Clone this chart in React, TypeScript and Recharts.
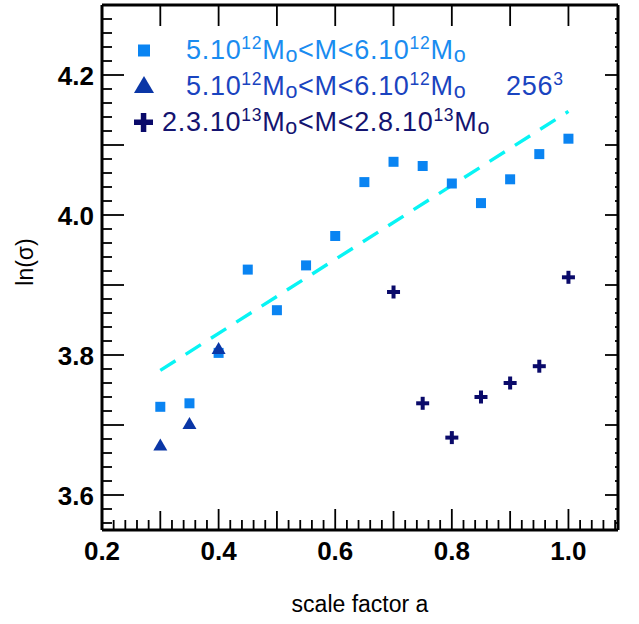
import { Scatter, ScatterChart, XAxis, YAxis } from 'recharts';

// scale factor a / ln(sigma)
const aSquares = [0.3, 0.35, 0.4, 0.45, 0.5, 0.55, 0.6, 0.65, 0.7, 0.75, 0.8, 0.85, 0.9, 0.95, 1.0];
const lnSigmaSquares = [3.726, 3.731, 3.803, 3.922, 3.864, 3.928, 3.97, 4.047, 4.076, 4.07, 4.045, 4.017, 4.051, 4.087, 4.109];

const aTriangles = [0.3, 0.35, 0.4];
const lnSigmaTriangles = [3.672, 3.703, 3.81];

const aCrosses = [0.7, 0.75, 0.8, 0.85, 0.9, 0.95, 1.0];
const lnSigmaCrosses = [3.89, 3.731, 3.682, 3.74, 3.76, 3.784, 3.911];

const aFit = [0.3, 1.0];
const lnSigmaFit = [3.778, 4.148];

const xTickLabels = [0.2, 0.4, 0.6, 0.8, 1.0];
const yTickLabels = [3.6, 3.8, 4.0, 4.2];

const X_DOMAIN: [number, number] = [0.2, 1.085];
const Y_DOMAIN: [number, number] = [3.55, 4.3];

const FONT = '"Liberation Sans", Arial, Helvetica, sans-serif';
const SQUARE_COLOR = '#0a84f2';
const TRIANGLE_COLOR = '#0a36a6';
const CROSS_COLOR = '#0a0a6a';
const FIT_COLOR = '#08f4f4';

const toPoints = (xs: number[], ys: number[]) => xs.map((x, i) => ({ x, y: ys[i] }));

// every 0.02 along both axes
const xMinor: number[] = [];
for (let k = 10; k <= 54; k++) xMinor.push(k / 50);
const xTenths: number[] = [];
for (let k = 2; k <= 10; k++) xTenths.push(k / 10);
const yMinor: number[] = [];
for (let k = 178; k <= 215; k++) yMinor.push(k / 50);

const isLabel = (v: number, list: number[]) => list.some((l) => Math.abs(l - v) < 1e-6);
const isTenth = (v: number) => Math.abs(v * 10 - Math.round(v * 10)) < 1e-6;

function BottomTick({ x, y, payload }: any) {
  const v = payload.value;
  const labelled = isLabel(v, xTickLabels);
  const len = labelled ? 21 : isTenth(v) ? 19 : 10;
  return (
    <g>
      <line x1={x} x2={x} y1={y} y2={y - len} stroke="#000" strokeWidth={1.8} />
      {labelled && (
        <text x={x} y={y + 30} textAnchor="middle" fontFamily={FONT} fontWeight="bold" fontSize={26} fill="#000">
          {v.toFixed(1)}
        </text>
      )}
    </g>
  );
}

function TopTick({ x, y }: any) {
  return <line x1={x} x2={x} y1={y} y2={y + 21} stroke="#000" strokeWidth={1.8} />;
}

function LeftTick({ x, y, payload }: any) {
  const v = payload.value;
  const labelled = isLabel(v, yTickLabels);
  const len = isTenth(v) ? 22 : 10;
  return (
    <g>
      <line x1={x} x2={x + len} y1={y} y2={y} stroke="#000" strokeWidth={1.8} />
      {labelled && (
        <text x={x - 8} y={y + 9.5} textAnchor="end" fontFamily={FONT} fontWeight="bold" fontSize={26} fill="#000">
          {v.toFixed(1)}
        </text>
      )}
    </g>
  );
}

function RightTick({ x, y, payload }: any) {
  const len = isTenth(payload.value) ? 13 : 3;
  return <line x1={x} x2={x - len} y1={y} y2={y} stroke="#000" strokeWidth={1.8} />;
}

const SquareDot = ({ cx, cy }: any) => <rect x={cx - 5} y={cy - 5} width={10} height={10} fill={SQUARE_COLOR} />;

const TriangleDot = ({ cx, cy }: any) => (
  <path d={`M${cx - 7},${cy + 6} L${cx + 7},${cy + 6} L${cx},${cy - 6} Z`} fill={TRIANGLE_COLOR} />
);

const CrossDot = ({ cx, cy }: any) => (
  <g fill={CROSS_COLOR}>
    <rect x={cx - 6.5} y={cy - 2} width={13} height={4} />
    <rect x={cx - 2} y={cy - 6.5} width={4} height={13} />
  </g>
);

const NoDot = () => <g />;

function MassRange({ lo, hi, exp, color }: { lo: string; hi: string; exp: string; color: string }) {
  return (
    <>
      <tspan fill={color}>{lo}</tspan>
      <tspan fill={color} fontSize={17.5} dy={-10}>{exp}</tspan>
      <tspan fill={color} dy={10}>M</tspan>
      <tspan fill={color} fontSize={21.5} dy={2.5}>o</tspan>
      <tspan fill={color} dy={-2.5}>{'<M<' + hi}</tspan>
      <tspan fill={color} fontSize={17.5} dy={-10}>{exp}</tspan>
      <tspan fill={color} dy={10}>M</tspan>
      <tspan fill={color} fontSize={21.5} dy={2.5}>o</tspan>
    </>
  );
}

function ChartLegend() {
  return (
    <svg width={639} height={150} style={{ display: 'block' }}>
      <g fontFamily={FONT} fontSize={27} letterSpacing={0.7}>
        <rect x={138} y={44.5} width={12} height={12} fill={SQUARE_COLOR} />
        <text x={186} y={59}>
          <MassRange lo="5.10" hi="6.10" exp="12" color="#1a8cf0" />
        </text>

        <path d="M134,93 L154,93 L144,76 Z" fill={TRIANGLE_COLOR} />
        <text x={186} y={95}>
          <MassRange lo="5.10" hi="6.10" exp="12" color="#1a44c0" />
        </text>
        <text x={506} y={95} fill="#1a44c0">
          256<tspan fontSize={17.5} dy={-10}>3</tspan>
        </text>

        <g fill={CROSS_COLOR}>
          <rect x={134} y={119.5} width={19} height={5.5} />
          <rect x={140.8} y={113} width={5.5} height={19} />
        </g>
        <text x={162} y={131}>
          <MassRange lo="2.3.10" hi="2.8.10" exp="13" color="#141470" />
        </text>
      </g>
    </svg>
  );
}

export default function App() {
  return (
    <div style={{ position: 'absolute', left: 0, top: 0, width: 639, height: 624, background: '#fff' }}>
      <ScatterChart width={639} height={624} margin={{ top: 0, right: 20, bottom: 0, left: 0 }}>
        <XAxis
          xAxisId="bottom"
          dataKey="x"
          type="number"
          domain={X_DOMAIN}
          allowDataOverflow
          ticks={xMinor}
          interval={0}
          height={94}
          tickSize={0}
          tickMargin={0}
          tickLine={false}
          tick={<BottomTick />}
          axisLine={{ stroke: '#000', strokeWidth: 3 }}
          label={({ viewBox }: any) => (
            <text
              x={viewBox.x + viewBox.width / 2}
              y={viewBox.y + 82}
              textAnchor="middle"
              fontFamily={FONT}
              fontSize={23}
              fill="#000"
            >
              scale factor a
            </text>
          )}
        />
        <XAxis
          xAxisId="top"
          orientation="top"
          dataKey="x"
          type="number"
          domain={X_DOMAIN}
          allowDataOverflow
          ticks={xTenths}
          interval={0}
          height={5}
          tickSize={0}
          tickMargin={0}
          tickLine={false}
          tick={<TopTick />}
          axisLine={{ stroke: '#000', strokeWidth: 3 }}
        />
        <YAxis
          yAxisId="left"
          dataKey="y"
          type="number"
          domain={Y_DOMAIN}
          allowDataOverflow
          ticks={yMinor}
          interval={0}
          width={102}
          tickSize={0}
          tickMargin={0}
          tickLine={false}
          tick={<LeftTick />}
          axisLine={{ stroke: '#000', strokeWidth: 3 }}
          label={() => (
            <text
              x={25}
              y={262}
              transform="rotate(-90 25 262)"
              textAnchor="middle"
              dominantBaseline="central"
              fontFamily={FONT}
              fontSize={23}
              fill="#000"
            >
              ln(σ)
            </text>
          )}
        />
        <YAxis
          yAxisId="right"
          orientation="right"
          dataKey="y"
          type="number"
          domain={Y_DOMAIN}
          allowDataOverflow
          ticks={yMinor}
          interval={0}
          width={1}
          tickSize={0}
          tickMargin={0}
          tickLine={false}
          tick={<RightTick />}
          axisLine={{ stroke: '#000', strokeWidth: 3 }}
        />
        <Scatter
          name="fit"
          xAxisId="bottom"
          yAxisId="left"
          data={toPoints(aFit, lnSigmaFit)}
          line={{ stroke: FIT_COLOR, strokeWidth: 3.4, strokeDasharray: '18 12' }}
          shape={<NoDot />}
          isAnimationActive={false}
          legendType="none"
        />
        <Scatter
          name="5.10^12 squares"
          xAxisId="bottom"
          yAxisId="left"
          data={toPoints(aSquares, lnSigmaSquares)}
          shape={<SquareDot />}
          isAnimationActive={false}
        />
        <Scatter
          name="5.10^12 256^3"
          xAxisId="bottom"
          yAxisId="left"
          data={toPoints(aTriangles, lnSigmaTriangles)}
          shape={<TriangleDot />}
          isAnimationActive={false}
        />
        <Scatter
          name="2.3.10^13"
          xAxisId="bottom"
          yAxisId="left"
          data={toPoints(aCrosses, lnSigmaCrosses)}
          shape={<CrossDot />}
          isAnimationActive={false}
        />
      </ScatterChart>
      <div style={{ position: 'absolute', left: 0, top: 0, pointerEvents: 'none' }}>
        <ChartLegend />
      </div>
    </div>
  );
}
